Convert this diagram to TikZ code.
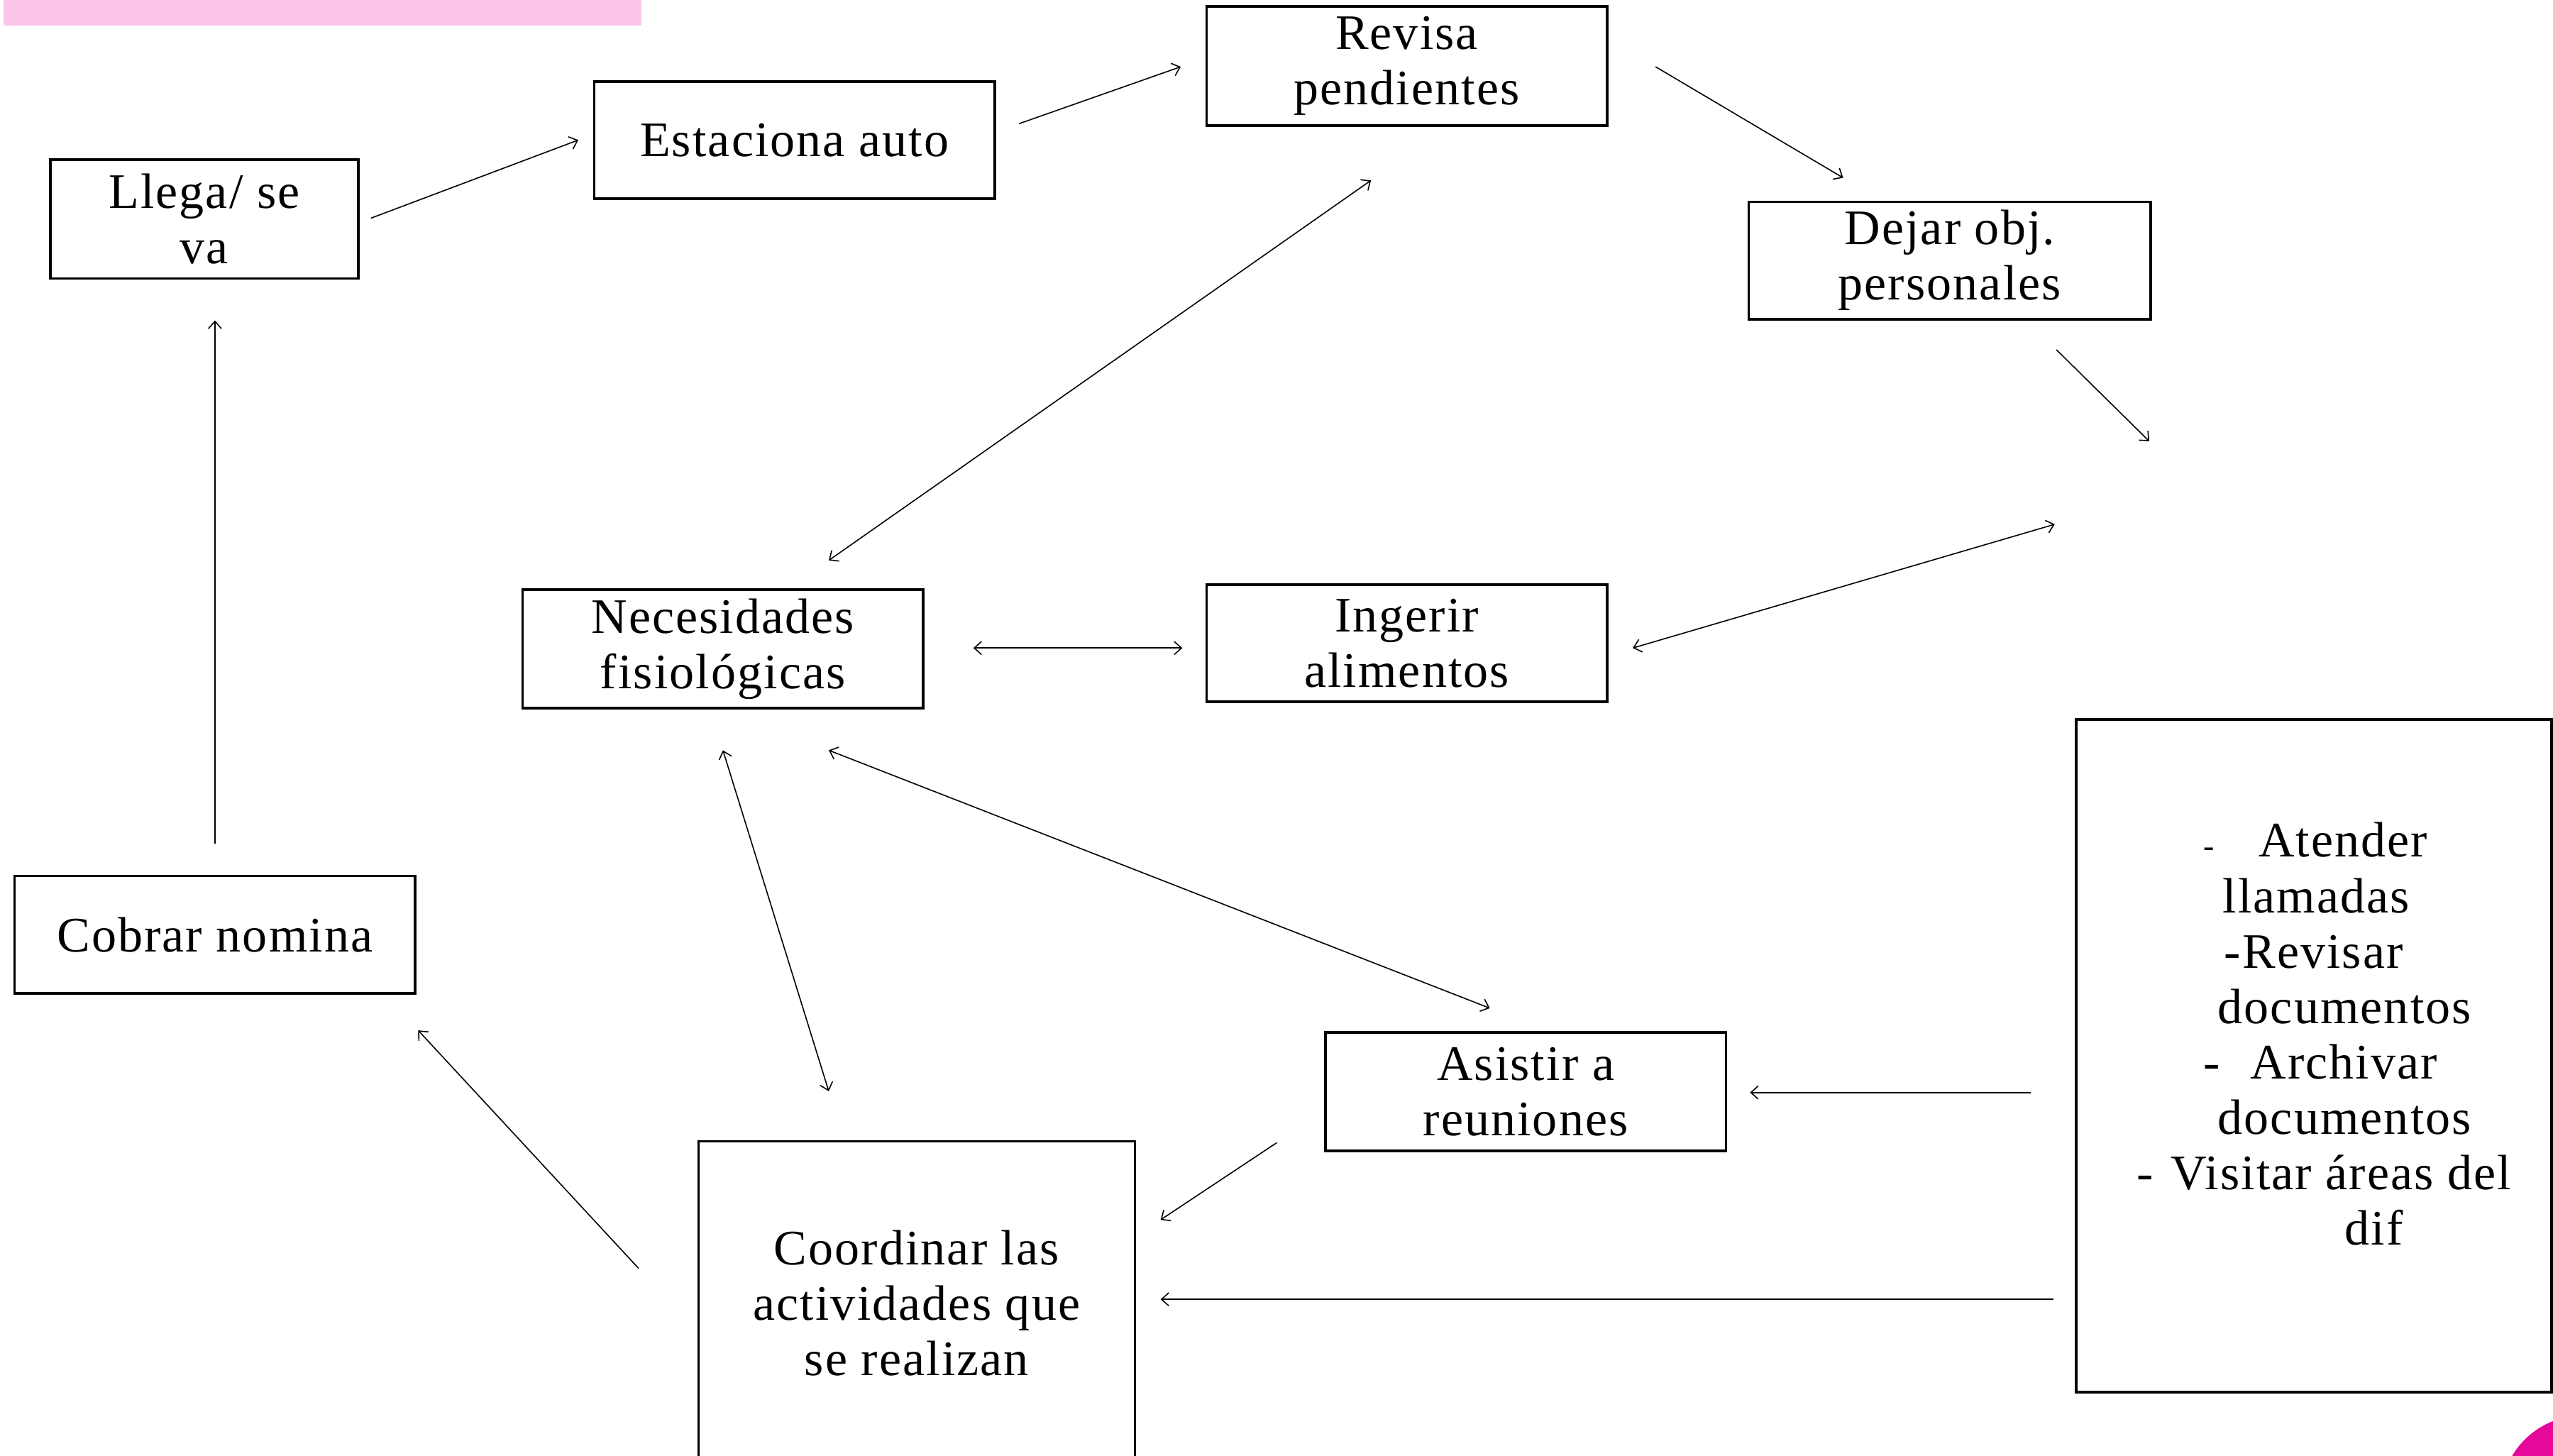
\documentclass[tikz,border=0pt]{standalone}
\usepackage{fontspec}
\setmainfont{Liberation Serif}[LetterSpace=3]
\usetikzlibrary{arrows.meta}
\definecolor{pinkbar}{RGB}{251,198,232}
\definecolor{magentadot}{RGB}{230,8,155}
\begin{document}
\begin{tikzpicture}[x=1pt,y=-1pt,
  box/.style={draw,line width=1.6pt,align=center,inner sep=0pt,font=\fontsize{30.5}{34}\selectfont},
  conn/.style={line width=0.7pt,-{Straight Barb[length=4.5pt,width=8pt]}},
  biconn/.style={line width=0.7pt,{Straight Barb[length=4.5pt,width=8pt]}-{Straight Barb[length=4.5pt,width=8pt]}}]
\useasboundingbox[fill=white] (0,0) rectangle (1568,894);
\fill[pinkbar] (2,0) rectangle (394,15.5);
\fill[magentadot] (1586,919.5) circle[radius=50];

\node[box,minimum width=189pt,minimum height=73pt] (llega) at (125.5,134.5) {Llega/ se\\va};
\node[box,minimum width=246pt,minimum height=72pt] (estaciona) at (488,86) {Estaciona auto};
\node[box,minimum width=246pt,minimum height=73pt] (revisa) at (864,40.5) {Revisa\\pendientes};
\node[box,minimum width=247pt,minimum height=72pt] (dejar) at (1197.5,160) {Dejar obj.\\personales};
\node[box,minimum width=246pt,minimum height=73pt] (necesidades) at (444,398.5) {Necesidades\\fisiológicas};
\node[box,minimum width=246pt,minimum height=72pt] (ingerir) at (864,395) {Ingerir\\alimentos};
\node[box,minimum width=246pt,minimum height=72pt] (cobrar) at (132,574) {Cobrar nomina};
\node[box,minimum width=246pt,minimum height=73pt] (asistir) at (937,670.5) {Asistir a\\reuniones};
\node[box,minimum width=268pt,minimum height=199pt] (coordinar) at (563,800.5) {Coordinar las\\actividades que\\se realizan};
\node[box,minimum width=292pt,minimum height=413pt] (big) at (1421,648.5) {};
\node[anchor=west,align=left,inner sep=0pt,font=\fontsize{30.5}{34}\selectfont] (bigtext) at (1300,635) {%
\hspace*{53pt}\makebox[34pt][l]{\fontsize{20}{20}\selectfont -}Atender\\
\hspace*{65pt}llamadas\\
\hspace*{66pt}-Revisar\\
\hspace*{62pt}documentos\\
\hspace*{53pt}\makebox[29pt][l]{-}Archivar\\
\hspace*{62pt}documentos\\
\hspace*{12pt}\makebox[21pt][l]{-}Visitar áreas del\\
\hspace*{140pt}dif};

\coordinate (vacioA) at (1320,271);
\coordinate (vacioB) at (1262,322);

\draw[conn] ([shift={(7,-0.5)}]llega.east) -- ([shift={(-9,0)}]estaciona.west);
\draw[conn] ([shift={(14,-10)}]estaciona.east) -- ([shift={(-15,0.5)}]revisa.west);
\draw[conn] ([shift={(29,0.5)}]revisa.east) -- ([shift={(-65.5,-14)}]dejar.north);
\draw[conn] ([shift={(65.5,18)}]dejar.south) -- (vacioA);
\draw[biconn] ([shift={(15,3)}]ingerir.east) -- (vacioB);
\draw[biconn] ([shift={(30,-0.5)}]necesidades.east) -- ([shift={(-14,3)}]ingerir.west);
\draw[biconn] ([shift={(65,-17)}]necesidades.north) -- ([shift={(-22,33)}]revisa.south);
\draw[biconn] ([shift={(65,25)}]necesidades.south) -- ([shift={(-22,-14)}]asistir.north);
\draw[biconn] ([shift={(0,25)}]necesidades.south) -- ([shift={(-54,-30)}]coordinar.north);
\draw[conn] ([shift={(-27,22.5)}]big.west) -- ([shift={(14,0.5)}]asistir.east);
\draw[conn] ([shift={(-13,149.5)}]big.west) -- ([shift={(15,-2.5)}]coordinar.east);
\draw[conn] ([shift={(-29,-6)}]asistir.south west) -- ([shift={(15,49)}]coordinar.north east);
\draw[conn] ([shift={(-36,-21.5)}]coordinar.west) -- ([shift={(1,22)}]cobrar.south east);
\draw[conn] ([shift={(0,-19)}]cobrar.north) -- ([shift={(6.5,25)}]llega.south);
\end{tikzpicture}
\end{document}
